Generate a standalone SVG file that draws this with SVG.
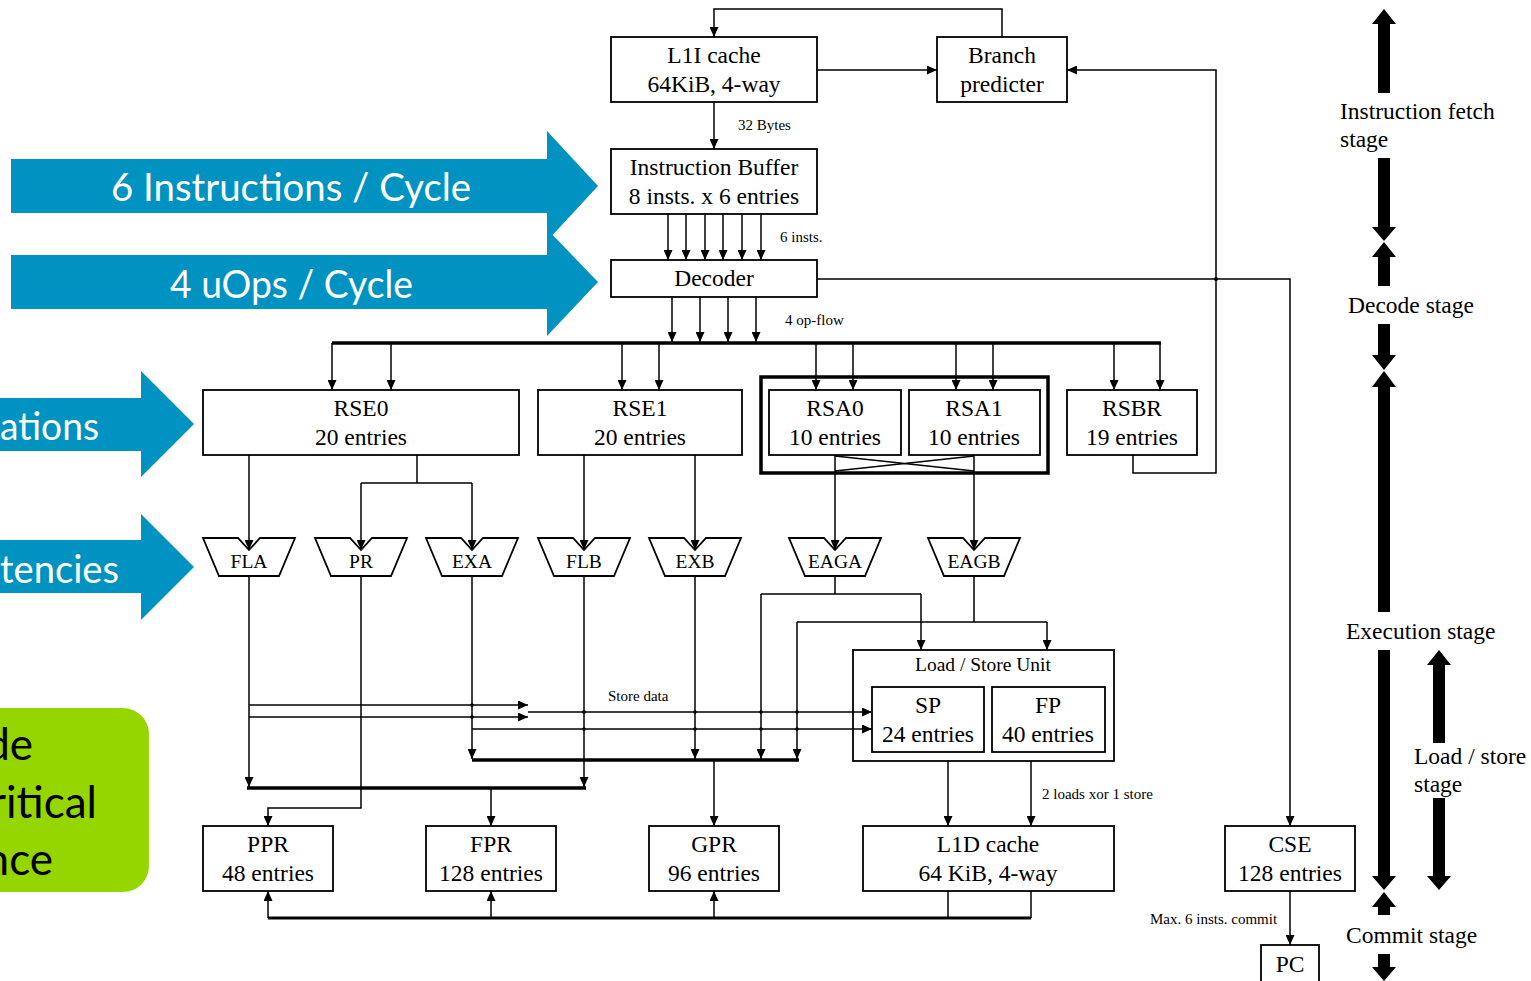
<svg xmlns="http://www.w3.org/2000/svg" width="1531" height="981" viewBox="0 0 1531 981">
  <defs>
    <marker id="ah" markerUnits="userSpaceOnUse" markerWidth="10" markerHeight="9" refX="10" refY="4.5" orient="auto">
      <path d="M0,0 L10,4.5 L0,9 Z" fill="#000"/>
    </marker>
    <path id="alu" d="M-46,0 H-11 L0,12 L11,0 H46 L30,38 H-30 Z"/>
    <style>
      .box { fill: #fff; stroke: #000; stroke-width: 1.8; }
      .frame { fill: none; stroke: #000; stroke-width: 1.8; }
      .bold { fill: none; stroke: #000; stroke-width: 3.5; }
      .ln { fill: none; stroke: #000; stroke-width: 1.5; }
      .ar { fill: none; stroke: #000; stroke-width: 1.5; marker-end: url(#ah); }
      .bus { fill: none; stroke: #000; stroke-width: 3.5; }
      .t { font-family: "Liberation Serif", "Times New Roman", serif; font-size: 23.5px; fill: #000; text-anchor: middle; }
      .tu { font-family: "Liberation Serif", "Times New Roman", serif; font-size: 19.5px; fill: #000; text-anchor: middle; }
      .ts { font-family: "Liberation Serif", "Times New Roman", serif; font-size: 15px; fill: #000; }
      .st { font-family: "Liberation Serif", "Times New Roman", serif; font-size: 23.5px; fill: #000; }
      .blue { fill: #0093C1; }
      .bt { font-family: Lato, "Open Sans", sans-serif; font-size: 38px; fill: #fff; }
      .gt { font-family: Lato, "Open Sans", sans-serif; font-size: 44px; fill: #000; text-anchor: end; }
      .dot { fill: #000; }
      .stage { fill: #000; }
    </style>
  </defs>

  <!-- blue throughput arrows on the left -->
  <g id="arrow-instructions">
    <polygon class="blue" points="11,159 547,159 547,131 598,186 547,241 547,213 11,213"/>
    <text class="bt" x="111" y="201" textLength="360" lengthAdjust="spacingAndGlyphs">6 Instructions / Cycle</text>
  </g>
  <g id="arrow-uops">
    <polygon class="blue" points="11,255 547,255 547,229 598,282 547,336 547,309 11,309"/>
    <text class="bt" x="170" y="298" textLength="243" lengthAdjust="spacingAndGlyphs">4 uOps / Cycle</text>
  </g>
  <g id="arrow-ations">
    <polygon class="blue" points="0,398 141,398 141,371 194,424 141,477 141,451 0,451"/>
    <text class="bt" x="99" y="440" text-anchor="end" textLength="99" lengthAdjust="spacingAndGlyphs">ations</text>
  </g>
  <g id="arrow-tencies">
    <polygon class="blue" points="0,540 141,540 141,514 194,567 141,620 141,593 0,593"/>
    <text class="bt" x="119" y="583" text-anchor="end" textLength="119" lengthAdjust="spacingAndGlyphs">tencies</text>
  </g>
  <g id="green-note">
    <rect x="-40" y="708" width="189" height="184" rx="26" ry="26" fill="#95D500"/>
    <text class="gt" x="33" y="760">de</text>
    <text class="gt" x="97" y="818">ritical</text>
    <text class="gt" x="53" y="875">nce</text>
  </g>

  <!-- front end -->
  <g id="l1i-cache">
    <rect class="box" x="611" y="37" width="206" height="65"/>
    <text class="t" x="714" y="63">L1I cache</text>
    <text class="t" x="714" y="92">64KiB, 4-way</text>
  </g>
  <g id="branch-predicter">
    <rect class="box" x="937" y="37" width="130" height="65"/>
    <text class="t" x="1002" y="63">Branch</text>
    <text class="t" x="1002" y="92">predicter</text>
  </g>
  <g id="instruction-buffer">
    <rect class="box" x="611" y="149" width="206" height="65"/>
    <text class="t" x="714" y="175">Instruction Buffer</text>
    <text class="t" x="714" y="204">8 insts. x 6 entries</text>
  </g>
  <g id="decoder">
    <rect class="box" x="611" y="260" width="206" height="37"/>
    <text class="t" x="714" y="286">Decoder</text>
  </g>

  <!-- reservation stations -->
  <g id="rse0">
    <rect class="box" x="203" y="390" width="316" height="65"/>
    <text class="t" x="361" y="416">RSE0</text>
    <text class="t" x="361" y="445">20 entries</text>
  </g>
  <g id="rse1">
    <rect class="box" x="538" y="390" width="204" height="65"/>
    <text class="t" x="640" y="416">RSE1</text>
    <text class="t" x="640" y="445">20 entries</text>
  </g>
  <g id="rsa-group">
    <rect class="bold" x="761" y="377" width="287" height="96"/>
  </g>
  <g id="rsa0">
    <rect class="box" x="769" y="390" width="132" height="65"/>
    <text class="t" x="835" y="416">RSA0</text>
    <text class="t" x="835" y="445">10 entries</text>
  </g>
  <g id="rsa1">
    <rect class="box" x="909" y="390" width="131" height="65"/>
    <text class="t" x="974" y="416">RSA1</text>
    <text class="t" x="974" y="445">10 entries</text>
  </g>
  <g id="rsbr">
    <rect class="box" x="1067" y="390" width="130" height="65"/>
    <text class="t" x="1132" y="416">RSBR</text>
    <text class="t" x="1132" y="445">19 entries</text>
  </g>

  <!-- execution units -->
  <g id="fla"><use href="#alu" x="249" y="538" class="box"/><text class="tu" x="249" y="568">FLA</text></g>
  <g id="pr"><use href="#alu" x="361" y="538" class="box"/><text class="tu" x="361" y="568">PR</text></g>
  <g id="exa"><use href="#alu" x="472" y="538" class="box"/><text class="tu" x="472" y="568">EXA</text></g>
  <g id="flb"><use href="#alu" x="584" y="538" class="box"/><text class="tu" x="584" y="568">FLB</text></g>
  <g id="exb"><use href="#alu" x="695" y="538" class="box"/><text class="tu" x="695" y="568">EXB</text></g>
  <g id="eaga"><use href="#alu" x="835" y="538" class="box"/><text class="tu" x="835" y="568">EAGA</text></g>
  <g id="eagb"><use href="#alu" x="974" y="538" class="box"/><text class="tu" x="974" y="568">EAGB</text></g>

  <!-- load / store unit -->
  <g id="lsu">
    <rect class="frame" x="853" y="650" width="261" height="111"/>
    <text class="tu" x="983" y="671">Load / Store Unit</text>
  </g>
  <g id="sp">
    <rect class="box" x="872" y="687" width="112" height="65"/>
    <text class="t" x="928" y="713">SP</text>
    <text class="t" x="928" y="742">24 entries</text>
  </g>
  <g id="fp">
    <rect class="box" x="992" y="687" width="113" height="65"/>
    <text class="t" x="1048" y="713">FP</text>
    <text class="t" x="1048" y="742">40 entries</text>
  </g>

  <!-- register files, data cache, commit -->
  <g id="ppr">
    <rect class="box" x="203" y="826" width="130" height="65"/>
    <text class="t" x="268" y="852">PPR</text>
    <text class="t" x="268" y="881">48 entries</text>
  </g>
  <g id="fpr">
    <rect class="box" x="426" y="826" width="130" height="65"/>
    <text class="t" x="491" y="852">FPR</text>
    <text class="t" x="491" y="881">128 entries</text>
  </g>
  <g id="gpr">
    <rect class="box" x="649" y="826" width="130" height="65"/>
    <text class="t" x="714" y="852">GPR</text>
    <text class="t" x="714" y="881">96 entries</text>
  </g>
  <g id="l1d-cache">
    <rect class="box" x="863" y="826" width="251" height="65"/>
    <text class="t" x="988" y="852">L1D cache</text>
    <text class="t" x="988" y="881">64 KiB, 4-way</text>
  </g>
  <g id="cse">
    <rect class="box" x="1225" y="826" width="130" height="65"/>
    <text class="t" x="1290" y="852">CSE</text>
    <text class="t" x="1290" y="881">128 entries</text>
  </g>
  <g id="pc">
    <rect class="box" x="1261" y="945" width="58" height="45"/>
    <text class="t" x="1290" y="972">PC</text>
  </g>

  <!-- connectors -->
  <g id="connectors">
    <path class="ar" d="M1002,37 V9 H714 V37"/>
    <path class="ar" d="M817,70 H937"/>
    <path class="ar" d="M1133,455 V473 H1216 V70 H1067"/>
    <path class="ar" d="M714,102 V149"/>
    <path class="ar" d="M668,214 V260"/>
    <path class="ar" d="M686,214 V260"/>
    <path class="ar" d="M705,214 V260"/>
    <path class="ar" d="M723,214 V260"/>
    <path class="ar" d="M742,214 V260"/>
    <path class="ar" d="M761,214 V260"/>
    <path class="ar" d="M817,279 H1290 V826"/>
    <path class="ar" d="M672,297 V342"/>
    <path class="ar" d="M700,297 V342"/>
    <path class="ar" d="M728,297 V342"/>
    <path class="ar" d="M756,297 V342"/>
    <path class="bus" d="M332,343 H1161"/>
    <path class="ar" d="M332,343 V390"/>
    <path class="ar" d="M391,343 V390"/>
    <path class="ar" d="M622,343 V390"/>
    <path class="ar" d="M659,343 V390"/>
    <path class="ar" d="M816,343 V390"/>
    <path class="ar" d="M853,343 V390"/>
    <path class="ar" d="M956,343 V390"/>
    <path class="ar" d="M993,343 V390"/>
    <path class="ar" d="M1114,343 V390"/>
    <path class="ar" d="M1160,343 V390"/>

    <!-- reservation stations to execution units -->
    <path class="ar" d="M249,455 V550"/>
    <path class="ln" d="M417,455 V483 M361,483 H472"/>
    <path class="ar" d="M361,483 V550"/>
    <path class="ar" d="M472,483 V550"/>
    <path class="ar" d="M584,455 V550"/>
    <path class="ar" d="M695,455 V550"/>
    <path class="ar" d="M835,455 V550"/>
    <path class="ar" d="M974,455 V550"/>
    <path class="ln" d="M835,456 L974,471 M974,456 L835,471"/>

    <!-- execution unit outputs -->
    <path class="ar" d="M249,576 V787"/>
    <path class="ar" d="M361,576 V808 H268 V826"/>
    <path class="ar" d="M472,576 V759"/>
    <path class="ar" d="M584,576 V787"/>
    <path class="ar" d="M695,576 V759"/>
    <path class="ln" d="M835,576 V594 M761,594 H921"/>
    <path class="ar" d="M921,594 V650"/>
    <path class="ar" d="M761,594 V759"/>
    <path class="ln" d="M974,576 V622 M797,622 H1047"/>
    <path class="ar" d="M1047,622 V650"/>
    <path class="ar" d="M797,622 V759"/>
    <path class="bus" d="M472,760 H799"/>
    <path class="bus" d="M247,788 H586"/>
    <path class="ar" d="M714,760 V826"/>
    <path class="ar" d="M491,788 V826"/>

    <!-- store data -->
    <path class="ar" d="M249,705 H528"/>
    <path class="ar" d="M249,717 H528"/>
    <path class="ar" d="M528,712 H872"/>
    <path class="ar" d="M472,729 H872"/>
    <circle class="dot" cx="472" cy="705" r="1.8"/>
    <circle class="dot" cx="472" cy="717" r="1.8"/>
    <circle class="dot" cx="584" cy="712" r="1.8"/>
    <circle class="dot" cx="695" cy="712" r="1.8"/>
    <circle class="dot" cx="761" cy="712" r="1.8"/>
    <circle class="dot" cx="797" cy="712" r="1.8"/>
    <circle class="dot" cx="584" cy="729" r="1.8"/>
    <circle class="dot" cx="695" cy="729" r="1.8"/>
    <circle class="dot" cx="761" cy="729" r="1.8"/>
    <circle class="dot" cx="797" cy="729" r="1.8"/>
    <circle class="dot" cx="1216" cy="279" r="2"/>

    <!-- load/store to L1D and back to register files -->
    <path class="ar" d="M948,761 V826"/>
    <path class="ar" d="M1031,761 V826"/>
    <path class="ln" d="M948,891 V918 M1031,891 V918"/>
    <path class="bus" d="M268,918 H1031" style="stroke-width:3"/>
    <path class="ar" d="M268,918 V891"/>
    <path class="ar" d="M491,918 V891"/>
    <path class="ar" d="M714,918 V891"/>
    <path class="ar" d="M1290,891 V945"/>

    <text class="ts" x="738" y="130">32 Bytes</text>
    <text class="ts" x="780" y="242">6 insts.</text>
    <text class="ts" x="785" y="325">4 op-flow</text>
    <text class="ts" x="608" y="701">Store data</text>
    <text class="ts" x="1042" y="799">2 loads xor 1 store</text>
    <text class="ts" x="1150" y="924">Max. 6 insts. commit</text>
  </g>

  <!-- pipeline stage markers -->
  <g id="stages">
    <path class="stage" d="M1384,9 L1396,24 H1390 V93 H1378 V24 H1372 Z"/>
    <text class="st" x="1340" y="119">Instruction fetch</text>
    <text class="st" x="1340" y="147">stage</text>
    <path class="stage" d="M1378,158 H1390 V227 H1396 L1384,241 L1372,227 H1378 Z"/>
    <path class="stage" d="M1384,242 L1396,257 H1390 V286 H1378 V257 H1372 Z"/>
    <text class="st" x="1348" y="313">Decode stage</text>
    <path class="stage" d="M1378,324 H1390 V355 H1396 L1384,370 L1372,355 H1378 Z"/>
    <path class="stage" d="M1384,371 L1396,387 H1390 V612 H1378 V387 H1372 Z"/>
    <text class="st" x="1346" y="639">Execution stage</text>
    <path class="stage" d="M1378,650 H1390 V876 H1396 L1384,890 L1372,876 H1378 Z"/>
    <path class="stage" d="M1384,892 L1396,907 H1390 V915 H1378 V907 H1372 Z"/>
    <text class="st" x="1346" y="943">Commit stage</text>
    <path class="stage" d="M1378,954 H1390 V967 H1396 L1384,981 L1372,967 H1378 Z"/>
    <path class="stage" d="M1439,650 L1451,665 H1445 V743 H1433 V665 H1427 Z"/>
    <text class="st" x="1414" y="764">Load / store</text>
    <text class="st" x="1414" y="792">stage</text>
    <path class="stage" d="M1433,798 H1445 V876 H1451 L1439,890 L1427,876 H1433 Z"/>
  </g>
</svg>
